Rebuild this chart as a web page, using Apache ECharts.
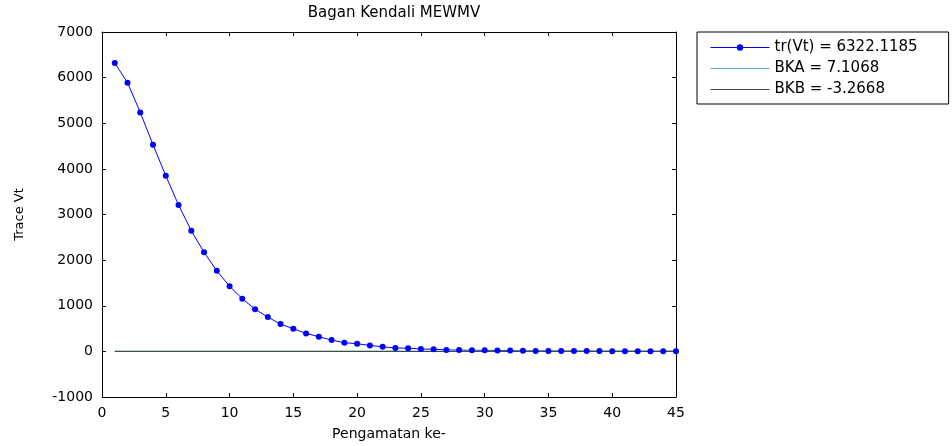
<!DOCTYPE html>
<html>
<head>
<meta charset="utf-8">
<script src="https://cdn.jsdelivr.net/npm/echarts@6/dist/echarts.min.js"></script>
<style>html,body{margin:0;padding:0;background:#fff;}#c{width:952px;height:446px;}</style>
</head>
<body>
<div id="c"></div>
<script>
var observations = [1,2,3,4,5,6,7,8,9,10,11,12,13,14,15,16,17,18,19,20,21,22,23,24,25,26,27,28,29,30,31,32,33,34,35,36,37,38,39,40,41,42,43,44,45];
var traceVt = [6322.1185,5890,5236,4529,3850,3210,2645,2172,1765,1429,1152,926,751,598,496,394,321,248,190,168,130,100,75,70,52,48,32,28,25,22,20,18,12,10,9,8,7,6,6,5,5,4,4,4,3];
var BKA = 7.1068;
var BKB = -3.2668;
var xTicks = {min: 0, max: 45, interval: 5};
var yTicks = {min: -1000, max: 7000, interval: 1000};
var legendNames = ['tr(Vt) = 6322.1185', 'BKA = 7.1068', 'BKB = -3.2668'];

var font = 'DejaVu Sans, sans-serif';
var blue = '#0000ff', green = '#5fae8a', dark = '#404a48';
var chart = echarts.init(document.getElementById('c'));
var trData = observations.map(function(x, i){ return [x, traceVt[i]]; });
var first = observations[0], last = observations[observations.length - 1];
var bkaData = [[first, BKA], [last, BKA]];
var bkbData = [[first, BKB], [last, BKB]];

function axisCommon(show) {
  return {
    axisLine: {show: true, onZero: false, lineStyle: {color: '#000', width: 1}},
    axisTick: {show: true, inside: true, length: 4, lineStyle: {color: '#000'}},
    axisLabel: {show: show, color: '#000', fontFamily: font, fontSize: 14, formatter: function(v){ return String(v); }},
    splitLine: {show: false}
  };
}

var xb = Object.assign({type: 'value', position: 'bottom', min: xTicks.min, max: xTicks.max, interval: xTicks.interval,
  name: 'Pengamatan ke-', nameLocation: 'middle', nameGap: 30,
  nameTextStyle: {color: '#000', fontFamily: font, fontSize: 14}}, axisCommon(true));
xb.axisLabel.margin = 9;
var xt = Object.assign({type: 'value', position: 'top', min: xTicks.min, max: xTicks.max, interval: xTicks.interval}, axisCommon(false));
var yl = Object.assign({type: 'value', position: 'left', min: yTicks.min, max: yTicks.max, interval: yTicks.interval,
  name: 'Trace Vt', nameLocation: 'middle', nameGap: 76,
  nameTextStyle: {color: '#000', fontFamily: font, fontSize: 13}}, axisCommon(true));
yl.axisLabel.margin = 9;
var yr = Object.assign({type: 'value', position: 'right', min: yTicks.min, max: yTicks.max, interval: yTicks.interval}, axisCommon(false));

chart.setOption({
  animation: false,
  backgroundColor: '#fff',
  title: {text: 'Bagan Kendali MEWMV', left: 389, textAlign: 'center', top: 1,
    textStyle: {color: '#000', fontFamily: font, fontSize: 15, fontWeight: 'normal'}},
  grid: {left: 102, top: 32, right: 276, bottom: 49},
  legend: {
    orient: 'vertical', left: 697, top: 32,
    backgroundColor: '#fff', borderColor: '#000', borderWidth: 1,
    padding: [8, 31, 7, 13], itemGap: 6, itemWidth: 59, itemHeight: 8,
    textStyle: {color: '#000', fontFamily: font, fontSize: 15},
    data: [
      {name: legendNames[0], lineStyle: {width: 1, color: blue}},
      {name: legendNames[1], itemStyle: {opacity: 0}, lineStyle: {width: 1, color: green}},
      {name: legendNames[2], itemStyle: {opacity: 0}, lineStyle: {width: 1, color: dark}}
    ]
  },
  xAxis: [xb, xt],
  yAxis: [yl, yr],
  series: [
    {name: legendNames[0], type: 'line', data: trData,
      symbol: 'circle', symbolSize: 6, showAllSymbol: true,
      lineStyle: {color: blue, width: 1}, itemStyle: {color: blue}},
    {name: legendNames[1], type: 'line', data: bkaData, symbol: 'none',
      lineStyle: {color: green, width: 1}, itemStyle: {color: green}},
    {name: legendNames[2], type: 'line', data: bkbData, symbol: 'none',
      lineStyle: {color: dark, width: 1.2}, itemStyle: {color: dark}}
  ]
});
</script>
</body>
</html>
